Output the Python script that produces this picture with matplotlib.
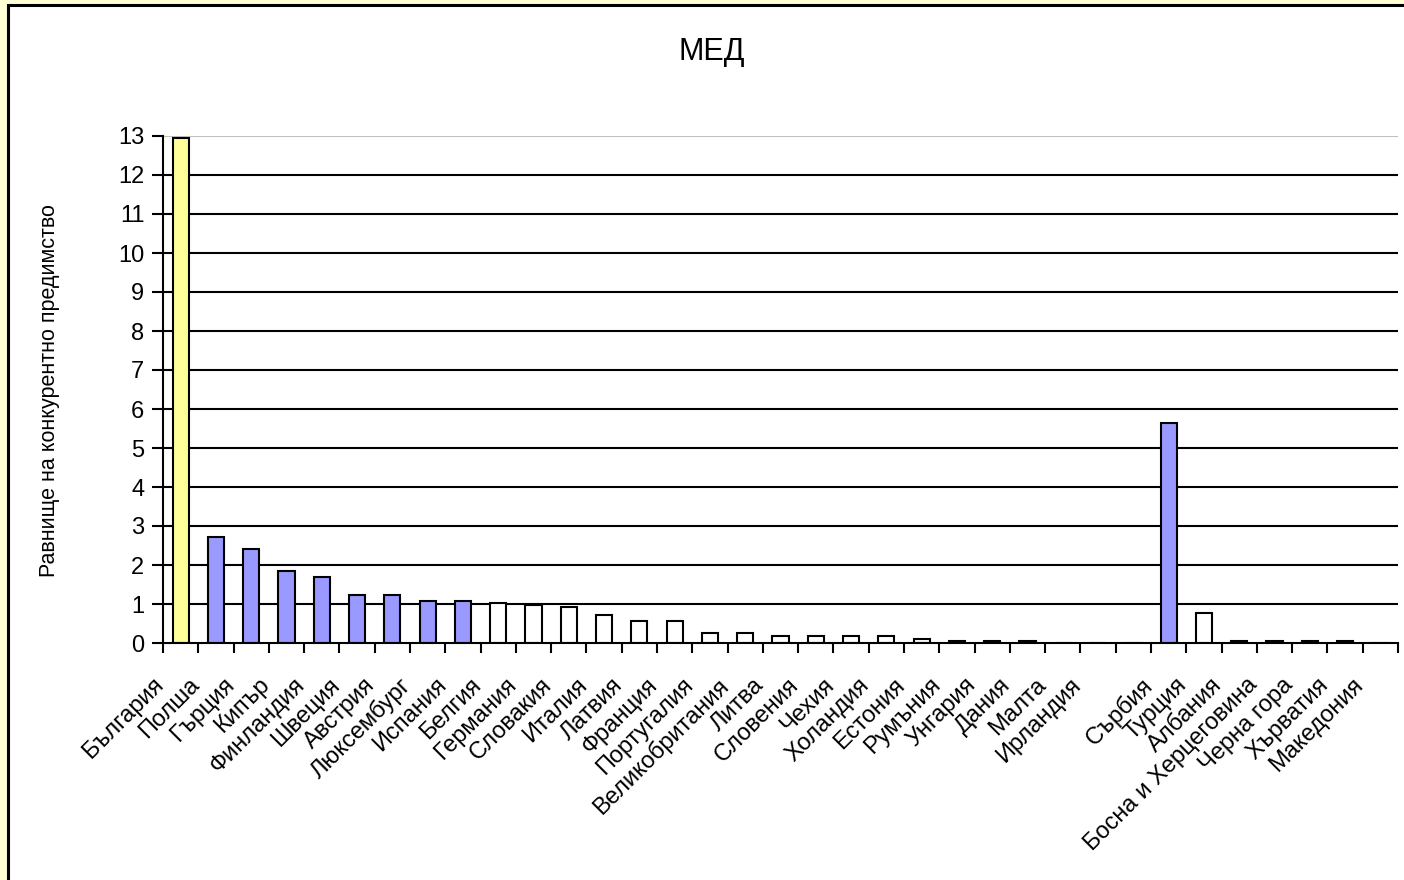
import numpy as np
import matplotlib.pyplot as plt
import matplotlib.transforms as mtransforms
from matplotlib.patches import Rectangle

countries = ["България", "Полша", "Гърция", "Кипър", "Финландия", "Швеция",
             "Австрия", "Люксембург", "Испания", "Белгия", "Германия", "Словакия",
             "Италия", "Латвия", "Франция", "Португалия", "Великобритания", "Литва",
             "Словения", "Чехия", "Холандия", "Естония", "Румъния", "Унгария",
             "Дания", "Малта", "Ирландия", "", "Сърбия", "Турция", "Албания",
             "Босна и Херцеговина", "Черна гора", "Хърватия", "Македония"]
values = [12.95, 2.72, 2.40, 1.85, 1.69, 1.23, 1.23, 1.08, 1.08, 1.03, 0.98, 0.93,
          0.73, 0.57, 0.57, 0.26, 0.26, 0.19, 0.19, 0.19, 0.19, 0.09, 0.04, 0.04,
          0.04, 0.0, 0.0, 0.0, 5.65, 0.77, 0.04, 0.04, 0.04, 0.04, 0.0]
groups = ["bg"] + ["hi"] * 8 + ["lo"] * 19 + ["hi"] + ["lo"] * 6
colors = {"bg": "#FFFF99", "hi": "#9999FF", "lo": "#FFFFFF"}

plt.rcParams['font.family'] = ['Liberation Sans', 'DejaVu Sans']

fig = plt.figure(figsize=(14.04, 8.80), dpi=100)
# yellow outer band and black frame
fig.patches.append(Rectangle((0, 0), 1, 1, transform=fig.transFigure,
                             facecolor="#FFFFD5", edgecolor="none", zorder=-2))
fig.patches.append(Rectangle((8 / 1404, -0.05), 1.1, 1.05 - 5.5 / 880,
                             transform=fig.transFigure, facecolor="white",
                             edgecolor="black", linewidth=2.2, zorder=-1))

ax = fig.add_axes([163 / 1404, 1 - 643 / 880, (1398 - 163) / 1404, (643 - 136) / 880])
ax.set_facecolor("none")

x = np.arange(len(countries))
ax.bar(x, values, width=0.46, color=[colors[g] for g in groups],
       edgecolor="black", linewidth=1.5, zorder=3)

ax.set_yticks(range(14))
for v in range(1, 13):
    ax.axhline(v, color="black", linewidth=1.5, zorder=1)
ax.axhline(13, color="#c0c0c0", linewidth=1.5, zorder=1)

# tick marks sit between categories
ax.set_xticks(np.arange(len(countries) + 1) - 0.5)
ax.set_xticklabels([])
ax.tick_params(axis="x", length=7, width=1.5, direction="out")
ax.tick_params(axis="y", length=8, width=1.5, direction="out", labelsize=17, pad=5.5)

# rotated category labels, hanging a little left of each category like Excel
shift = mtransforms.ScaledTranslation(-28 / 100, -31 / 100, fig.dpi_scale_trans)
for xi, name in zip(x, countries):
    ax.text(xi, 0, name, transform=ax.get_xaxis_transform() + shift,
            rotation=45, ha="right", va="top", rotation_mode="anchor", fontsize=17)

ax.set_xlim(-0.5, len(countries) - 0.5)
ax.set_ylim(0, 13)

for s in ["top", "right"]:
    ax.spines[s].set_visible(False)
for s in ["left", "bottom"]:
    ax.spines[s].set_linewidth(1.5)
    ax.spines[s].set_zorder(4)

fig.text(0.507, 1 - 52 / 880, "МЕД", ha="center", va="center", fontsize=22)
fig.text(50 / 1404, 1 - 391 / 880, "Равнище на конкурентно предимство",
         rotation=90, ha="center", va="center", fontsize=15.5)

fig.savefig("out.png", dpi=100)
